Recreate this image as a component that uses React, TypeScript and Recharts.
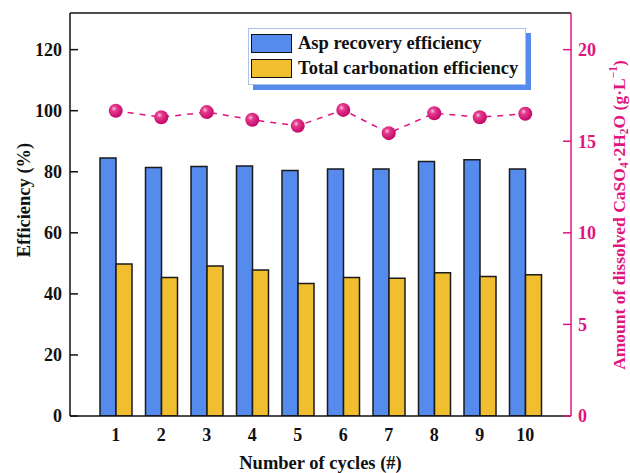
import {
  ComposedChart,
  Bar,
  Line,
  XAxis,
  YAxis,
  Legend,
  ReferenceLine,
  Label,
} from "recharts";

const cycles = ["1", "2", "3", "4", "5", "6", "7", "8", "9", "10"];
const aspRecovery = [84.5, 81.4, 81.7, 81.9, 80.4, 80.9, 80.9, 83.4, 83.9, 80.9];
const totalCarbonation = [49.8, 45.4, 49.1, 47.8, 43.4, 45.4, 45.1, 46.9, 45.7, 46.3];
const dissolvedGypsum = [16.66, 16.31, 16.59, 16.17, 15.84, 16.71, 15.44, 16.53, 16.31, 16.5];

const leftTicks = [0, 20, 40, 60, 80, 100, 120];
const rightTicks = [0, 5, 10, 15, 20];

const BLUE = "#568BEE";
const YELLOW = "#F0BE2E";
const MAGENTA = "#E0157F";
const FONT = "'Times New Roman', 'Liberation Serif', serif";

const data = cycles.map((c, i) => ({
  cycle: c,
  asp: aspRecovery[i],
  carb: totalCarbonation[i],
  gypsum: dissolvedGypsum[i],
}));

const tickStyle = { fontFamily: FONT, fontWeight: 700, fontSize: 18, fill: "#111" };

const SphereDot = (props: any) => {
  const { cx, cy, index } = props;
  const id = `sphere-${index}`;
  return (
    <g>
      <defs>
        <radialGradient id={id} cx="38%" cy="35%" r="65%">
          <stop offset="0%" stopColor="#F7C6DE" />
          <stop offset="30%" stopColor="#E43B8F" />
          <stop offset="100%" stopColor="#C40768" />
        </radialGradient>
      </defs>
      <circle cx={cx} cy={cy} r={7} fill={`url(#${id})`} />
    </g>
  );
};

const LegendBox = (props: any) => {
  const items = (props.payload || []).filter((p: any) => p.type !== "none");
  return (
    <div
      style={{
        width: 278,
        height: 57,
        background: "#fff",
        border: "1px solid #A9C2F0",
        boxShadow: `5px 5px 0 ${BLUE}`,
        fontFamily: FONT,
        fontWeight: 700,
        fontSize: 18.5,
        color: "#111",
        boxSizing: "border-box",
        paddingTop: 2,
      }}
    >
      {items.map((it: any) => (
        <div key={it.value} style={{ display: "flex", alignItems: "center", height: 25, paddingLeft: 2 }}>
          <span
            style={{
              display: "inline-block",
              width: 41,
              height: 19,
              background: it.color,
              border: "1.5px solid #111",
              boxSizing: "border-box",
              marginRight: 6,
            }}
          />
          <span>{it.value}</span>
        </div>
      ))}
    </div>
  );
};

const LeftTitle = (props: any) => {
  const { viewBox } = props;
  const x = viewBox.x + 24;
  const y = 200;
  return (
    <text
      x={x}
      y={y}
      transform={`rotate(-90, ${x}, ${y})`}
      textAnchor="middle"
      dominantBaseline="central"
      style={{ fontFamily: FONT, fontWeight: 700, fontSize: 18.5, fill: "#111" }}
    >
      Efficiency (%)
    </text>
  );
};

const RightTitle = (props: any) => {
  const { viewBox } = props;
  const x = viewBox.x + 48;
  const y = 215;
  return (
    <text
      x={x}
      y={y}
      transform={`rotate(-90, ${x}, ${y})`}
      textAnchor="middle"
      dominantBaseline="central"
      style={{ fontFamily: FONT, fontWeight: 700, fontSize: 17.5, fill: MAGENTA }}
    >
      <tspan>Amount of dissolved CaSO</tspan>
      <tspan fontSize={11.5} dy={5}>4</tspan>
      <tspan dy={-5}>·2H</tspan>
      <tspan fontSize={11.5} dy={5}>2</tspan>
      <tspan dy={-5}>O (g·L</tspan>
      <tspan fontSize={11.5} dy={-6}>−1</tspan>
      <tspan dy={6}>)</tspan>
    </text>
  );
};

const BottomTitle = (props: any) => {
  const { viewBox } = props;
  return (
    <text
      x={viewBox.x + viewBox.width / 2}
      y={viewBox.y + viewBox.height - 4}
      textAnchor="middle"
      style={{ fontFamily: FONT, fontWeight: 700, fontSize: 18.5, fill: "#111" }}
    >
      Number of cycles (#)
    </text>
  );
};

export default function App() {
  return (
    <div style={{ position: "absolute", left: 0, top: 0, width: 630, height: 473, background: "#fff" }}>
      <ComposedChart
        width={630}
        height={473}
        data={data}
        margin={{ top: 13, right: 0, bottom: 0, left: 0 }}
        barGap={0}
      >
        <XAxis
          dataKey="cycle"
          padding={{ left: 23, right: 23 }}
          height={57}
          tickLine={false}
          tickSize={0}
          tickMargin={12}
          axisLine={{ stroke: "#111", strokeWidth: 1.5 }}
          tick={tickStyle}
        >
          <Label content={BottomTitle} />
        </XAxis>
        <YAxis
          yAxisId="left"
          domain={[0, 132]}
          ticks={leftTicks}
          width={70}
          tickSize={-8}
          tickMargin={16}
          axisLine={{ stroke: "#111", strokeWidth: 1.5 }}
          tickLine={{ stroke: "#111", strokeWidth: 1.5 }}
          tick={tickStyle}
          allowDataOverflow
        >
          <Label content={LeftTitle} />
        </YAxis>
        <YAxis
          yAxisId="right"
          orientation="right"
          domain={[0, 22]}
          ticks={rightTicks}
          width={59}
          tickSize={-8}
          tickMargin={15}
          axisLine={{ stroke: MAGENTA, strokeWidth: 1.5 }}
          tickLine={{ stroke: MAGENTA, strokeWidth: 1.5 }}
          tick={{ ...tickStyle, fill: MAGENTA, textAnchor: "start" }}
          allowDataOverflow
        >
          <Label content={RightTitle} />
        </YAxis>
        <ReferenceLine yAxisId="left" y={132} stroke="#111" strokeWidth={1.5} />
        <Legend
          layout="vertical"
          align="center"
          verticalAlign="middle"
          content={LegendBox}
          wrapperStyle={{ left: 248, top: 28, width: 280 }}
        />
        <Bar
          yAxisId="left"
          dataKey="asp"
          name="Asp recovery efficiency"
          fill={BLUE}
          stroke="#1a1a1a"
          strokeWidth={1.5}
          barSize={16}
          isAnimationActive={false}
        />
        <Bar
          yAxisId="left"
          dataKey="carb"
          name="Total carbonation efficiency"
          fill={YELLOW}
          stroke="#1a1a1a"
          strokeWidth={1.5}
          barSize={16}
          isAnimationActive={false}
        />
        <Line
          yAxisId="right"
          dataKey="gypsum"
          name="Dissolved gypsum"
          legendType="none"
          stroke={MAGENTA}
          strokeWidth={1.5}
          strokeDasharray="6 6"
          dot={SphereDot}
          activeDot={false}
          isAnimationActive={false}
        />
      </ComposedChart>
    </div>
  );
}
